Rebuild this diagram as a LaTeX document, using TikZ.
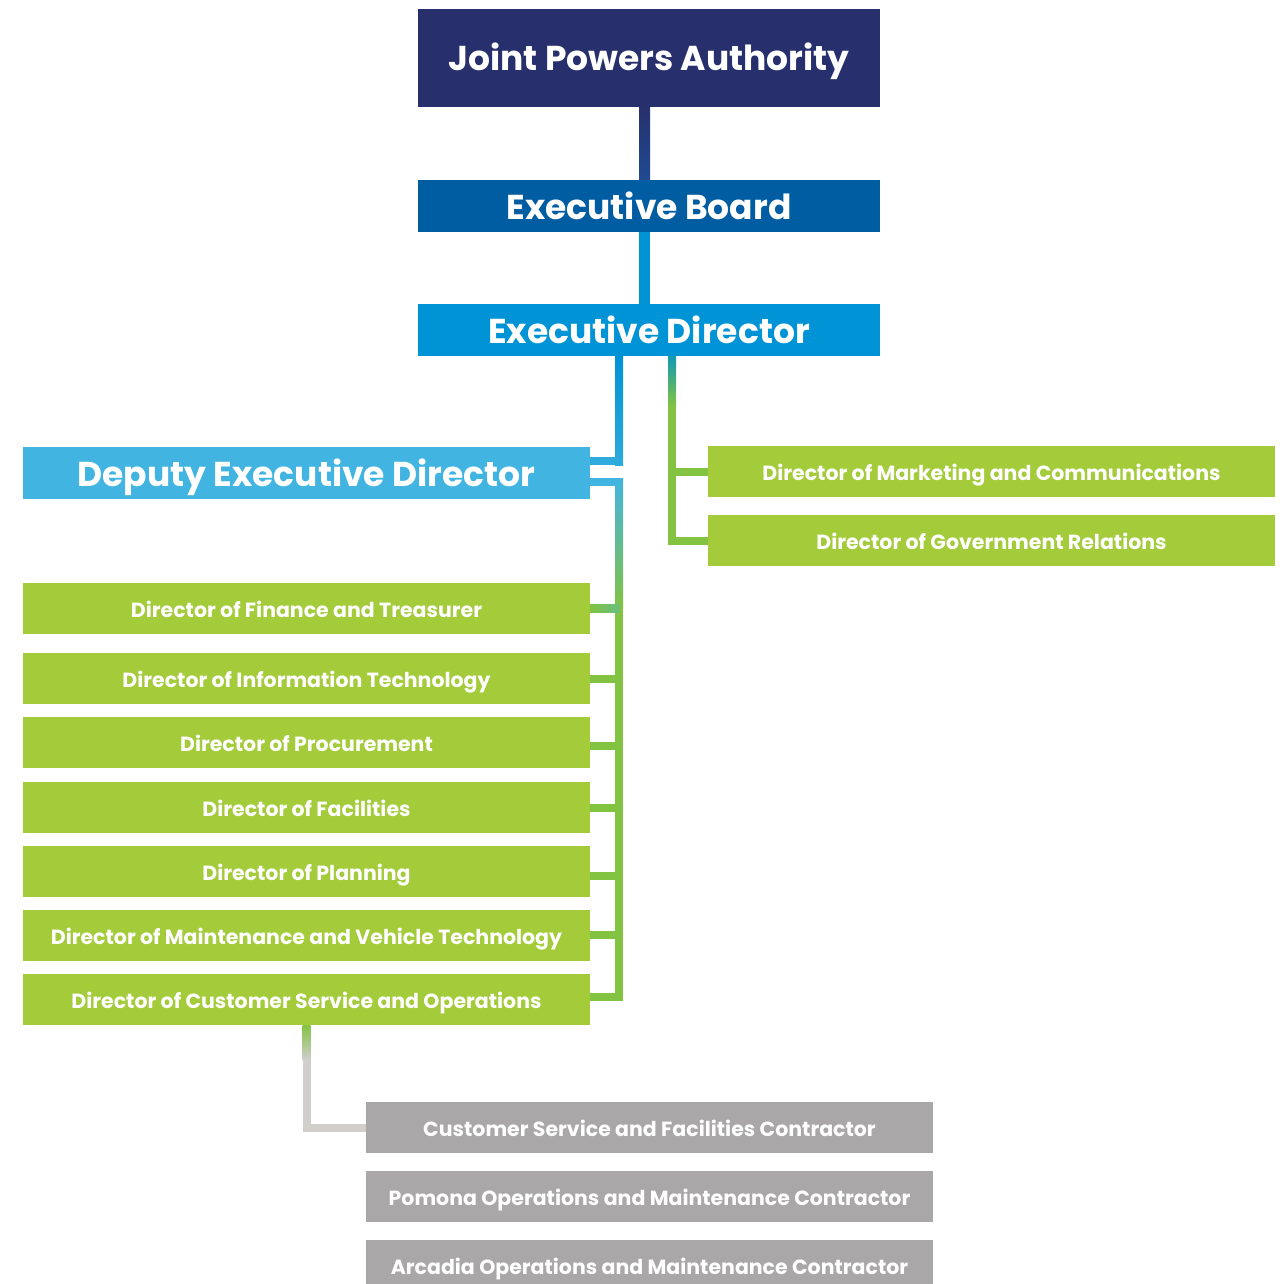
\documentclass[tikz,border=0pt]{standalone}
\usepackage{fontspec}
\setmainfont{Poppins}
\usetikzlibrary{calc}
\definecolor{navy}{HTML}{27306D}
\definecolor{ebblue}{HTML}{005DA2}
\definecolor{edblue}{HTML}{0093D5}
\definecolor{depblue}{HTML}{42B4E1}
\definecolor{boxgreen}{HTML}{A3CB3A}
\definecolor{boxgrey}{HTML}{A9A7A8}
\definecolor{cgreen}{HTML}{82C341}
\definecolor{cgrey}{HTML}{D0CFCC}
\definecolor{navyline}{HTML}{1F4A93}
\definecolor{tealline}{HTML}{109AB3}
\begin{document}
\begin{tikzpicture}[x=1pt,y=-1pt,
  box/.style={rectangle, inner sep=0pt, outer sep=0pt, text=white, align=center, text depth=0pt},
  topbox/.style={box, minimum width=462pt, minimum height=52pt, text height=26pt, font=\bfseries\fontsize{34.5}{40}\selectfont},
  dirbox/.style={box, fill=boxgreen, minimum width=567pt, minimum height=51pt, text height=18pt, font=\bfseries\fontsize{20.5}{24}\selectfont},
  conbox/.style={dirbox, fill=boxgrey},
  conn/.style={line width=8pt}]
\useasboundingbox (0,0) rectangle (1284,1284);

% boxes
\node[topbox, fill=navy, minimum height=98pt] (jpa) at (649,58) {Joint Powers Authority};
\node[topbox, fill=ebblue] (eb) at (649,206) {Executive Board};
\node[topbox, fill=edblue] (ed) at (649,330) {Executive Director};
\node[topbox, fill=depblue, minimum width=567pt] (dep) at (306.5,473) {Deputy Executive Director};

\node[dirbox] (mkt) at (991.5,471.5) {Director of Marketing and Communications};
\node[dirbox] (gov) at (991.5,540.5) {Director of Government Relations};

\node[dirbox] (fin) at (306.5,608.5) {Director of Finance and Treasurer};
\node[dirbox] (it) at (306.5,678.5) {Director of Information Technology};
\node[dirbox] (proc) at (306.5,742.5) {Director of Procurement};
\node[dirbox] (fac) at (306.5,807.5) {Director of Facilities};
\node[dirbox] (plan) at (306.5,871.5) {Director of Planning};
\node[dirbox] (maint) at (306.5,935.5) {Director of Maintenance and Vehicle Technology};
\node[dirbox] (cs) at (306.5,999.5) {Director of Customer Service and Operations};

\node[conbox] (c1) at (649.5,1127.5) {Customer Service and Facilities Contractor};
\node[conbox] (c2) at (649.5,1196.5) {Pomona Operations and Maintenance Contractor};
\node[conbox] (c3) at (649.5,1265.5) {Arcadia Operations and Maintenance Contractor};

% top connectors
\shade[top color=navy, bottom color=navyline] ($(jpa.south)+(-10,0)$) rectangle ($(eb.north)+(1,0)$);
\fill[edblue] ($(eb.south)+(-10,0)$) rectangle ($(ed.north)+(1,0)$);

% executive director -> deputy
\coordinate (sp) at ($(ed.south)+(-30,0)$);
\shade[top color=edblue, bottom color=depblue!70!edblue] ($(sp)+(-4,0)$) rectangle ($(sp |- dep.east)+(4,-8)$);
\draw[conn, depblue!70!edblue] ($(dep.east)+(0,-12)$) -- ($(sp |- dep.east)+(0,-12)$);

% deputy spine
\draw[conn, depblue] ($(dep.east)+(0,9)$) -- ($(sp |- dep.east)+(4,9)$);
\shade[top color=depblue, bottom color=cgreen] ($(sp |- dep.east)+(-4,5)$) rectangle ($(sp |- fin.east)+(4,0)$);
\fill[cgreen] ($(sp |- fin.east)+(-4,0)$) rectangle ($(sp |- cs.east)+(4,1.5)$);
\shade[left color=cgreen, right color=cgreen!60!depblue] (fin.east)++(0,-4) rectangle ($(sp |- fin.east)+(0,4)$);
\foreach \n/\d in {it/0.5, proc/3.5, fac/0.5, plan/4.5, maint/-0.5, cs/-2.5}
  \draw[conn, cgreen] ($(\n.east)+(0,\d)$) -- ($(sp |- \n.east)+(0,\d)$);

% right spine
\coordinate (rs) at ($(ed.south)+(23,0)$);
\shade[top color=tealline, bottom color=cgreen] ($(rs)+(-4,0)$) rectangle ($(rs)+(4,50)$);
\fill[cgreen] ($(rs)+(-4,50)$) rectangle ($(rs |- gov.west)+(4,4.5)$);
\draw[conn, cgreen] (rs |- mkt.west) -- (mkt.west);
\draw[conn, cgreen] (rs |- gov.west) -- (gov.west);

% customer service -> contractors
\shade[top color=cgreen, bottom color=cgrey] ($(cs.south)+(-4,0)$) rectangle ($(cs.south)+(4,35)$);
\draw[conn, cgrey] ($(cs.south)+(0,35)$) |- (c1.west);
\end{tikzpicture}
\end{document}
